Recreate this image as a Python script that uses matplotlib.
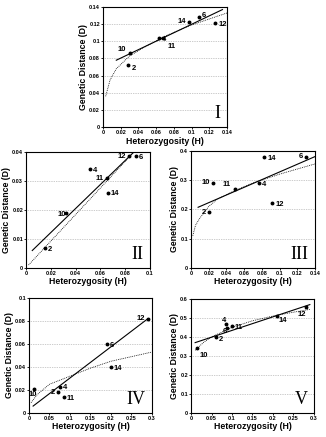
import matplotlib
matplotlib.use("Agg")
import matplotlib.pyplot as plt

plt.rcParams['font.family'] = ['Liberation Sans', 'DejaVu Sans']

# panel I
h1 = [0.030, 0.028, 0.063, 0.068, 0.097, 0.108, 0.127]
d1 = [0.086, 0.072, 0.104, 0.104, 0.123, 0.128, 0.121]
lab1 = ['10', '2', '4', '11', '14', '6', '12']
line1_x = [0.015, 0.135]
line1_y = [0.078, 0.137]
curve1_x = [0.003, 0.008, 0.015, 0.03, 0.05, 0.07, 0.1, 0.14]
curve1_y = [0.036, 0.055, 0.068, 0.083, 0.095, 0.106, 0.119, 0.133]

# panel II
h2 = [0.032, 0.015, 0.052, 0.065, 0.066, 0.083, 0.089]
d2 = [0.019, 0.007, 0.034, 0.031, 0.026, 0.0385, 0.0385]
lab2 = ['10', '2', '4', '11', '14', '12', '6']
line2_x = [0.005, 0.087]
line2_y = [0.006, 0.040]
curve2_x = [0.002, 0.087]
curve2_y = [0.001, 0.040]

# panel III
h3 = [0.025, 0.020, 0.077, 0.050, 0.083, 0.130, 0.092]
d3 = [0.290, 0.190, 0.290, 0.270, 0.380, 0.380, 0.220]
lab3 = ['10', '2', '4', '11', '14', '6', '12']
line3_x = [0.008, 0.14]
line3_y = [0.207, 0.380]
curve3_x = [0.002, 0.005, 0.01, 0.02, 0.03, 0.05, 0.07, 0.1, 0.14]
curve3_y = [0.110, 0.145, 0.170, 0.210, 0.235, 0.265, 0.290, 0.320, 0.355]

# panel IV
h4 = [0.012, 0.070, 0.076, 0.085, 0.200, 0.190, 0.290]
d4 = [0.021, 0.018, 0.023, 0.014, 0.040, 0.060, 0.082]
lab4 = ['10', '2', '4', '11', '14', '6', '12']
line4_x = [0.01, 0.29]
line4_y = [0.006, 0.082]
curve4_x = [0.005, 0.02, 0.05, 0.1, 0.15, 0.2, 0.25, 0.3]
curve4_y = [0.009, 0.016, 0.025, 0.032, 0.039, 0.045, 0.049, 0.053]

# panel V
h5 = [0.015, 0.060, 0.085, 0.100, 0.210, 0.088, 0.280]
d5 = [0.340, 0.400, 0.470, 0.455, 0.510, 0.445, 0.560]
lab5 = ['10', '2', '4', '11', '14', '6', '12']
line5_x = [0.01, 0.29]
line5_y = [0.370, 0.570]
curve5_x = [0.01, 0.03, 0.05, 0.1, 0.15, 0.2, 0.25, 0.29]
curve5_y = [0.330, 0.370, 0.400, 0.450, 0.485, 0.510, 0.530, 0.545]

# label placement: (dx, dy) in points, ha
off1 = [(-9, 3, 'left'), (3, -2, 'left'), (2, -1, 'left'), (3, -6, 'left'),
        (-2, 0, 'right'), (2, 1, 'left'), (2, -1, 'left')]
off2 = [(-6, -1, 'left'), (2, -1, 'left'), (2, -1, 'left'), (-2, 0, 'right'),
        (2, -1, 'left'), (-2, 0, 'right'), (2, -1, 'left')]
off3 = [(-2, 0, 'right'), (-2, 0, 'right'), (2, -1, 'left'), (-3, 3, 'right'),
        (2, -1, 'left'), (-2, 0, 'right'), (2, -1, 'left')]
off4 = [(-4, -4, 'left'), (-2, 0, 'right'), (2, -1, 'left'), (2, -1, 'left'),
        (2, -1, 'left'), (2, -1, 'left'), (-2, 0, 'right')]
off5 = [(2, -5, 'left'), (2, -2, 'left'), (-3, 2, 'left'), (2, -1, 'left'),
        (1, -3, 'left'), (-3, -2, 'left'), (-6, -6, 'left')]

panels = [
    ([0.316, 0.709, 0.380, 0.275], h1, d1, lab1, off1, line1_x, line1_y, curve1_x, curve1_y,
     0.14, 0.14, [0, 0.02, 0.04, 0.06, 0.08, 0.1, 0.12, 0.14], [0, 0.02, 0.04, 0.06, 0.08, 0.1, 0.12, 0.14], 'I'),
    ([0.080, 0.387, 0.380, 0.265], h2, d2, lab2, off2, line2_x, line2_y, curve2_x, curve2_y,
     0.1, 0.04, [0, 0.02, 0.04, 0.06, 0.08, 0.1], [0, 0.01, 0.02, 0.03, 0.04], 'II'),
    ([0.586, 0.387, 0.380, 0.268], h3, d3, lab3, off3, line3_x, line3_y, curve3_x, curve3_y,
     0.14, 0.4, [0, 0.02, 0.04, 0.06, 0.08, 0.1, 0.12, 0.14], [0, 0.1, 0.2, 0.3, 0.4], 'III'),
    ([0.089, 0.055, 0.377, 0.263], h4, d4, lab4, off4, line4_x, line4_y, curve4_x, curve4_y,
     0.3, 0.1, [0, 0.05, 0.1, 0.15, 0.2, 0.25, 0.3], [0, 0.02, 0.04, 0.06, 0.08, 0.1], 'IV'),
    ([0.586, 0.055, 0.377, 0.261], h5, d5, lab5, off5, line5_x, line5_y, curve5_x, curve5_y,
     0.3, 0.6, [0, 0.05, 0.1, 0.15, 0.2, 0.25, 0.3], [0, 0.1, 0.2, 0.3, 0.4, 0.5, 0.6], 'V'),
]

fig = plt.figure(figsize=(3.26, 4.37), dpi=100)

for rect, hx, dy, labs, offs, lx, ly, cx, cy, xmax, ymax, xt, yt, roman in panels:
    ax = fig.add_axes(rect)
    ax.set_xlim(0, xmax)
    ax.set_ylim(0, ymax)
    ax.set_xticks(xt)
    ax.set_yticks(yt)
    ax.set_xticklabels([('%g' % v) for v in xt], fontsize=4.0, fontweight='bold')
    ax.set_yticklabels([('%g' % v) for v in yt], fontsize=4.0, fontweight='bold')
    ax.tick_params(length=1.2, width=0.6, pad=1)
    for v in yt[1:-1]:
        ax.axhline(v, color='#999999', lw=0.5, ls=(0, (1, 1.5)), zorder=0)
    for s in ax.spines.values():
        s.set_linewidth(0.8)
    ax.plot(lx, ly, color='black', lw=0.8)
    ax.plot(cx, cy, color='black', lw=0.6, ls=(0, (1, 1.2)))
    ax.plot(hx, dy, 'o', color='black', ms=1.8)
    for x, y, t, (ox, oy, ha) in zip(hx, dy, labs, offs):
        ax.annotate(t, (x, y), xytext=(ox, oy), textcoords='offset points',
                    fontsize=5.5, fontweight='bold', ha=ha, va='center')
    ax.text(0.95, 0.04, roman, transform=ax.transAxes, ha='right', va='bottom',
            fontsize=13, family='Liberation Serif')
    ax.set_xlabel('Heterozygosity (H)', fontsize=6.3, fontweight='bold', labelpad=1)
    ax.set_ylabel('Genetic Distance (D)', fontsize=6.3, fontweight='bold', labelpad=1)

fig.savefig('out.png', dpi=100)
